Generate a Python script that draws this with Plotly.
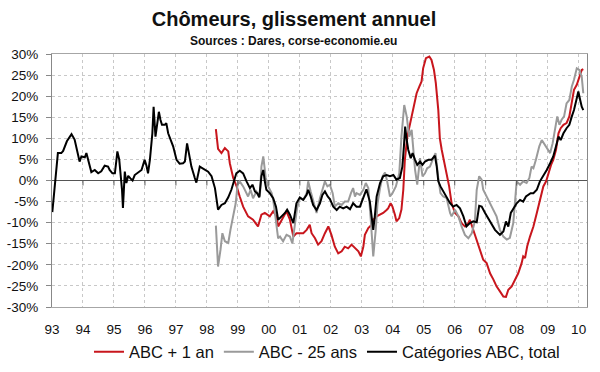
import plotly.graph_objects as go

# ---- data (decimal years, % annual change) ----
t_black = [1993.01, 1993.19, 1993.30, 1993.36, 1993.48, 1993.63, 1993.73, 1993.84, 1993.89, 1993.95,
           1994.06, 1994.11, 1994.20, 1994.27, 1994.38, 1994.49, 1994.59, 1994.70, 1994.81, 1994.86,
           1994.95, 1995.03, 1995.08, 1995.11, 1995.17, 1995.22, 1995.26, 1995.29, 1995.35, 1995.40,
           1995.46, 1995.53, 1995.60, 1995.67, 1995.78, 1995.89, 1995.99, 1996.05, 1996.10, 1996.16,
           1996.24, 1996.28, 1996.34, 1996.39, 1996.45, 1996.50, 1996.55, 1996.64, 1996.69, 1996.75,
           1996.82, 1996.91, 1997.02, 1997.12, 1997.23, 1997.29, 1997.36, 1997.43, 1997.50, 1997.61,
           1997.66, 1997.77, 1997.93, 1998.04, 1998.15, 1998.26, 1998.36, 1998.47, 1998.58, 1998.69,
           1998.79, 1998.87, 1998.95, 1999.06, 1999.17, 1999.28, 1999.39, 1999.47, 1999.55, 1999.62,
           1999.69, 1999.76, 1999.82, 1999.87, 1999.92, 2000.03, 2000.14, 2000.23, 2000.30, 2000.41,
           2000.52, 2000.59, 2000.68, 2000.79, 2000.89, 2001.00, 2001.11, 2001.22, 2001.27, 2001.35,
           2001.43, 2001.54, 2001.65, 2001.73, 2001.81, 2001.90, 2001.97, 2002.08, 2002.19, 2002.29,
           2002.40, 2002.51, 2002.62, 2002.72, 2002.83, 2002.94, 2003.05, 2003.15, 2003.26, 2003.32,
           2003.37, 2003.42, 2003.48, 2003.59, 2003.69, 2003.80, 2003.91, 2004.02, 2004.12, 2004.23,
           2004.31, 2004.36, 2004.40, 2004.45, 2004.50, 2004.58, 2004.64, 2004.72, 2004.79, 2004.88,
           2004.96, 2005.04, 2005.15, 2005.25, 2005.36, 2005.42, 2005.47, 2005.54, 2005.63, 2005.74,
           2005.85, 2005.95, 2006.06, 2006.17, 2006.28, 2006.38, 2006.49, 2006.60, 2006.71, 2006.79,
           2006.87, 2006.98, 2007.08, 2007.19, 2007.30, 2007.46, 2007.57, 2007.655, 2007.73, 2007.81,
           2007.89, 2008.00, 2008.11, 2008.21, 2008.30, 2008.38, 2008.45, 2008.54, 2008.65, 2008.75,
           2008.86, 2008.97, 2009.08, 2009.18, 2009.27, 2009.35, 2009.42, 2009.51, 2009.61, 2009.70,
           2009.78, 2009.85, 2009.94, 2009.99, 2010.05, 2010.10, 2010.15]
v_black = [-7.5, 6.5, 6.5, 7.0, 9.3, 11.0, 9.7, 6.5, 4.5, 5.7,
           5.5, 6.5, 4.0, 2.0, 2.5, 1.7, 2.2, 3.5, 3.3, 2.5,
           1.7, 1.7, 4.9, 6.9, 5.0, 1.7, -2.2, -6.5, 2.1, -0.6,
           1.1, 0.5, 0.0, 1.3, 1.9, 2.5, 4.9, 3.5, 1.7, 4.9,
           11.2, 17.5, 10.4, 13.6, 16.3, 14.4, 13.2, 13.2, 13.6, 11.2,
           9.6, 8.1, 4.9, 4.0, 4.1, 4.5, 8.8, 5.7, 3.3, 0.6,
           -0.5, 3.3, 2.7, 2.1, 1.0, -1.8, -6.9, -5.8, -5.4, -4.0,
           -2.2, -0.2, 1.7, 2.3, 1.7, -0.2, -1.8, -1.0, -2.6, -3.0,
           -4.0, 1.0, 2.5, -0.2, -2.2, -3.0, -4.2, -6.2, -9.3, -8.5,
           -7.7, -6.9, -8.1, -10.1, -5.4, -4.0, -4.6, -3.4, -2.2, -3.8,
           -5.8, -7.0, -5.4, -3.4, -2.6, -3.8, -4.4, -6.2, -7.0, -6.2,
           -6.6, -6.2, -6.8, -5.4, -6.2, -6.2, -3.8, -2.1, -5.0, -8.5,
           -11.7, -8.5, -3.8, -0.6, 1.0, 1.3, 1.0, 1.3, 0.2, 0.6,
           3.3, 8.1, 12.8, 9.6, 7.3, 5.3, 6.5, 4.9, 3.7, 4.5,
           3.7, 4.5, 4.9, 4.9, 5.9, 3.3, -0.2, -1.4, -2.6, -3.8,
           -5.4, -6.2, -5.8, -6.6, -8.5, -10.9, -10.1, -9.7, -9.9, -6.0,
           -6.2, -7.7, -8.9, -10.5, -11.7, -12.9, -12.1, -9.7, -10.9, -7.7,
           -6.6, -5.4, -4.6, -5.0, -3.8, -3.4, -3.0, -3.0, -2.2, -0.2,
           1.0, 2.5, 4.1, 5.7, 8.1, 10.4, 9.6, 11.2, 12.4, 13.2,
           15.2, 16.7, 19.5, 21.1, 19.1, 17.5, 16.7]

t_red = [1998.29, 1998.36, 1998.47, 1998.58, 1998.69, 1998.74, 1998.85, 1998.96, 1999.06, 1999.17,
         1999.33, 1999.49, 1999.65, 1999.76, 1999.87, 2000.03, 2000.14, 2000.25, 2000.30, 2000.41,
         2000.57, 2000.68, 2000.79, 2000.89, 2001.11, 2001.22, 2001.32, 2001.38, 2001.49, 2001.59,
         2001.70, 2001.81, 2001.92, 2002.02, 2002.13, 2002.24, 2002.35, 2002.45, 2002.56, 2002.67,
         2002.78, 2002.89, 2002.97, 2003.05, 2003.10, 2003.21, 2003.32, 2003.37, 2003.48, 2003.59,
         2003.69, 2003.80, 2003.85, 2003.93, 2003.99, 2004.07, 2004.12, 2004.21, 2004.28, 2004.34,
         2004.39, 2004.47, 2004.55, 2004.66, 2004.77, 2004.86, 2004.93, 2004.98, 2005.07, 2005.18,
         2005.25, 2005.33, 2005.39, 2005.47, 2005.52, 2005.58, 2005.65, 2005.74, 2005.82, 2005.90,
         2006.01, 2006.12, 2006.22, 2006.33, 2006.44, 2006.49, 2006.60, 2006.71, 2006.82, 2006.92,
         2007.03, 2007.14, 2007.25, 2007.35, 2007.46, 2007.57, 2007.655, 2007.73, 2007.84, 2007.95,
         2008.05, 2008.16, 2008.21, 2008.27, 2008.34, 2008.43, 2008.54, 2008.65, 2008.75, 2008.86,
         2008.95, 2009.02, 2009.11, 2009.18, 2009.27, 2009.35, 2009.42, 2009.51, 2009.61, 2009.70,
         2009.78, 2009.85, 2009.94, 2010.02, 2010.10, 2010.15]
v_red = [12.2, 7.5, 6.5, 7.7, 6.9, 4.1, 0.6, -1.4, -3.8, -6.2,
         -8.5, -9.3, -10.9, -8.1, -7.7, -8.5, -7.3, -8.5, -10.9, -9.3,
         -7.3, -9.3, -13.3, -12.5, -12.5, -11.7, -10.5, -12.5, -13.7, -15.2,
         -14.4, -12.5, -10.9, -12.9, -15.7, -17.3, -16.8, -15.7, -16.1, -15.2,
         -16.1, -16.8, -18.0, -15.7, -12.9, -11.3, -10.5, -9.3, -8.5, -8.1,
         -7.7, -7.0, -6.6, -5.4, -6.2, -8.1, -9.7, -8.9, -6.9, -2.2,
         4.9, 10.4, 13.2, 16.7, 20.7, 22.3, 23.5, 26.6, 29.0, 29.4,
         28.6, 26.2, 23.1, 16.7, 10.0, 7.3, 4.9, 1.7, -1.4, -5.4,
         -7.7, -8.5, -10.1, -10.9, -10.1, -9.3, -11.7, -14.0, -16.4, -18.8,
         -19.6, -22.0, -23.5, -25.1, -26.3, -27.5, -27.6, -25.9, -25.1, -23.5,
         -22.0, -19.6, -18.0, -18.4, -15.6, -13.3, -10.9, -7.7, -4.6, -1.4,
         -0.2, 1.7, 3.7, 4.9, 7.3, 11.2, 12.4, 13.2, 13.6, 15.2,
         19.1, 21.5, 22.7, 24.6, 26.2, 26.4]

t_gray = [1998.29, 1998.36, 1998.44, 1998.50, 1998.58, 1998.69, 1998.76, 1998.85, 1998.93, 1998.99,
          1999.06, 1999.17, 1999.26, 1999.33, 1999.41, 1999.49, 1999.60, 1999.71, 1999.76, 1999.82,
          1999.90, 1999.98, 2000.09, 2000.14, 2000.19, 2000.25, 2000.30, 2000.36, 2000.46, 2000.57,
          2000.68, 2000.76, 2000.84, 2000.91, 2001.00, 2001.11, 2001.22, 2001.27, 2001.35, 2001.43,
          2001.54, 2001.65, 2001.76, 2001.81, 2001.89, 2001.97, 2002.06, 2002.13, 2002.24, 2002.35,
          2002.45, 2002.56, 2002.65, 2002.72, 2002.78, 2002.83, 2002.94, 2003.05, 2003.13, 2003.21,
          2003.29, 2003.37, 2003.45, 2003.51, 2003.59, 2003.67, 2003.75, 2003.82, 2003.91, 2003.99,
          2004.10, 2004.21, 2004.28, 2004.37, 2004.45, 2004.53, 2004.61, 2004.66, 2004.72, 2004.79,
          2004.88, 2004.96, 2005.04, 2005.11, 2005.20, 2005.31, 2005.38, 2005.47, 2005.54, 2005.63,
          2005.74, 2005.85, 2005.90, 2006.01, 2006.12, 2006.22, 2006.33, 2006.44, 2006.55, 2006.65,
          2006.71, 2006.79, 2006.87, 2006.92, 2007.03, 2007.14, 2007.25, 2007.35, 2007.46, 2007.57,
          2007.68, 2007.78, 2007.89, 2008.00, 2008.11, 2008.21, 2008.32, 2008.41, 2008.48, 2008.54,
          2008.62, 2008.73, 2008.81, 2008.88, 2008.99, 2009.08, 2009.16, 2009.24, 2009.31, 2009.38,
          2009.45, 2009.53, 2009.61, 2009.70, 2009.78, 2009.85, 2009.94, 2010.02, 2010.10, 2010.15]
v_gray = [-10.7, -20.4, -16.4, -12.5, -14.4, -14.8, -11.7, -8.5, -5.4, -1.0,
          -0.2, -1.4, -2.6, -3.8, -2.2, -4.2, -2.6, -3.8, 3.3, 5.7,
          0.6, -1.4, -3.0, -4.6, -7.3, -10.9, -13.7, -13.3, -14.4, -12.9,
          -13.3, -14.9, -10.1, -6.6, -4.2, -4.6, -3.0, -0.2, -2.6, -5.0,
          -7.7, -4.2, -1.0, -0.2, -1.4, -1.0, -3.0, -6.2, -5.4, -5.8,
          -5.0, -5.0, -3.0, -1.8, -3.8, -3.0, -3.4, -2.2, -0.6, -1.8,
          -9.3, -18.0, -11.7, -5.4, -1.8, 1.0, 1.9, -0.2, -3.8, -3.0,
          -1.4, 1.7, 10.4, 17.9, 15.2, 10.4, 12.0, 7.3, 2.5, -1.0,
          5.3, 1.0, 1.7, 2.9, 3.3, 5.3, 6.5, 0.6, -3.0, -3.8,
          -4.2, -7.7, -8.5, -6.9, -8.5, -10.9, -12.9, -13.7, -12.5, -9.7,
          -2.2, 1.0, 0.2, -2.2, -3.8, -5.4, -6.9, -8.5, -11.7, -13.3,
          -14.0, -13.6, -10.1, -0.2, -1.0, -0.2, -0.6, 0.6, 3.3, 2.9,
          4.9, 8.1, 9.6, 8.8, 7.3, 6.5, 8.8, 12.8, 15.2, 13.2,
          14.4, 15.2, 18.3, 19.1, 22.3, 23.9, 26.6, 26.2, 24.6, 20.7]

years = list(range(1993, 2011))
year_labels = ["93", "94", "95", "96", "97", "98", "99", "00", "01", "02",
               "03", "04", "05", "06", "07", "08", "09", "10"]
y_ticks = [30, 25, 20, 15, 10, 5, 0, -5, -10, -15, -20, -25, -30]
y_labels = [f"{v}%" for v in y_ticks]

series_names = ["ABC + 1 an", "ABC - 25 ans", "Catégories ABC, total"]

FONT = "Liberation Sans, Arial, sans-serif"

fig = go.Figure()
fig.add_trace(go.Scatter(x=t_red, y=v_red, mode="lines", name=series_names[0],
                         line=dict(color="#C8161D", width=2)))
fig.add_trace(go.Scatter(x=t_gray, y=v_gray, mode="lines", name=series_names[1],
                         line=dict(color="#9A9A9A", width=2)))
fig.add_trace(go.Scatter(x=t_black, y=v_black, mode="lines", name=series_names[2],
                         line=dict(color="#000000", width=2)))

# small tick marks under the zero line, one per year
for yr in years[1:-1]:
    fig.add_shape(type="line", xref="x", yref="y", x0=yr, x1=yr,
                  ysizemode="pixel", yanchor=0, y0=0, y1=-5,
                  line=dict(color="#555555", width=1))

fig.update_layout(
    width=600, height=372,
    margin=dict(l=52, r=13, t=54, b=65, autoexpand=False),
    paper_bgcolor="white", plot_bgcolor="white",
    font=dict(family=FONT, color="#111111"),
    title=dict(text="<b>Chômeurs, glissement annuel</b>", xref="container", x=0.49,
               y=1 - 19 / 372, yref="container", xanchor="center", yanchor="middle",
               font=dict(size=20, family=FONT, color="#111111")),
    annotations=[dict(text="<b>Sources : Dares, corse-economie.eu</b>", xref="paper", yref="paper",
                      x=0.452, y=(307 - 41) / 253, xanchor="center", yanchor="middle",
                      showarrow=False, font=dict(size=12, family=FONT, color="#111111"))],
    showlegend=True,
    legend=dict(orientation="h", x=0.514, xanchor="center", y=-0.178, yanchor="middle",
                font=dict(size=16.5, family=FONT, color="#111111"), itemwidth=30,
                bgcolor="rgba(0,0,0,0)"),
    xaxis=dict(range=[1993, 2010.27], tickvals=years, ticktext=year_labels,
               showgrid=True, gridcolor="#C8C8C8", griddash="dot", gridwidth=1,
               showline=True, linecolor="#A6A6A6", linewidth=1, mirror=True,
               ticks="", zeroline=False, ticklabelstandoff=10, automargin=False,
               tickfont=dict(size=13.5, family=FONT, color="#111111")),
    yaxis=dict(range=[-30, 30], tickvals=y_ticks, ticktext=y_labels,
               showgrid=True, gridcolor="#C8C8C8", griddash="dot", gridwidth=1,
               showline=True, linecolor="#888888", linewidth=1, mirror=True,
               ticks="outside", ticklen=5, tickcolor="#888888",
               zeroline=True, zerolinecolor="#555555", zerolinewidth=1,
               ticklabelstandoff=5, automargin=False,
               tickfont=dict(size=13.5, family=FONT, color="#111111")),
)

fig.write_html("out.html", config={"displayModeBar": False},
               post_script="document.body.style.margin='0';document.body.style.overflow='hidden';")
